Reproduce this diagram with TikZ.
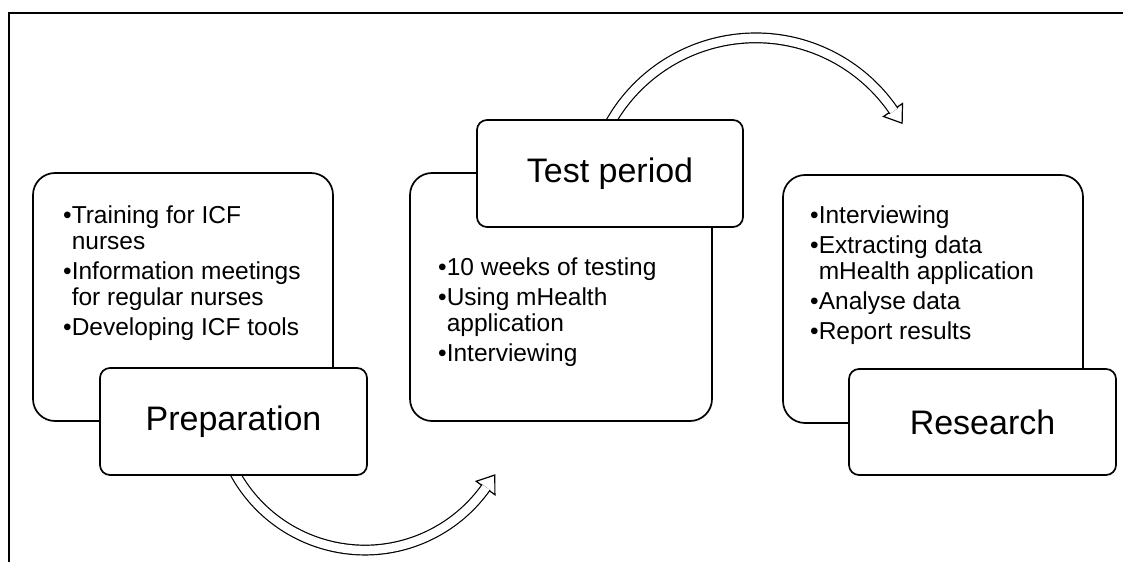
\documentclass[tikz,border=0pt]{standalone}
\usepackage{fontspec}
\setmainfont{Liberation Sans}
\usetikzlibrary{calc}
\pgfdeclarelayer{background}
\pgfsetlayers{background,main}
\begin{document}
\begin{tikzpicture}[x=1pt,y=1pt,
  bigbox/.style={draw, line width=1.7pt, rounded corners=22pt, fill=white, inner sep=0pt},
  labelbox/.style={draw, line width=1.7pt, rounded corners=10pt, fill=white, inner sep=0pt, font=\fontsize{34}{40}\selectfont},
  listtext/.style={anchor=base west, inner sep=0pt, font=\fontsize{24.5}{26}\selectfont},
  shaft/.style={draw=black, line width=1.2pt, double=white, double distance=8.5pt},
  head/.style={draw=black, fill=white, line width=1.2pt, line join=miter}]

\useasboundingbox (0,0) rectangle (1123,562);
\draw[line width=1.7pt] (9,0) -- (9,549) -- (1123,549);

% stage boxes
\node[bigbox, minimum width=300pt, minimum height=248pt] (prepbox) at (183,265) {};
\node[labelbox, minimum width=267pt, minimum height=107pt] (prep) at (233.5,140.5) {Preparation};

\node[bigbox, minimum width=302pt, minimum height=248pt] (testbox) at (561,265) {};
\node[labelbox, minimum width=266pt, minimum height=107pt] (test) at (610,388.5) {Test period};

\node[bigbox, minimum width=300pt, minimum height=248pt] (resbox) at (933,263) {};
\node[labelbox, minimum width=267pt, minimum height=106pt] (res) at (982.5,140) {Research};

% lists
\node[listtext] (preplist) at (63,338) {\begin{tabular}[t]{@{}l@{}l@{}}•&Training for ICF\\&nurses\\[4pt]•&Information meetings\\&for regular nurses\\[4pt]•&Developing ICF tools\end{tabular}};
\node[listtext] (testlist) at (438,286) {\begin{tabular}[t]{@{}l@{}l@{}}•&10 weeks of testing\\[4pt]•&Using mHealth\\&application\\[4pt]•&Interviewing\end{tabular}};
\node[listtext] (reslist) at (810,338) {\begin{tabular}[t]{@{}l@{}l@{}}•&Interviewing\\[4pt]•&Extracting data\\&mHealth application\\[4pt]•&Analyse data\\[4pt]•&Report results\end{tabular}};

% curved block arrows
\coordinate (c1) at (755.7,357.1);
\coordinate (t1) at (902.1,438.8);
\coordinate (a1) at (902.5,458.5);
\coordinate (b1) at (883.5,445.5);
\coordinate (c2) at (364.9,160.25);
\coordinate (t2) at (494.8,87);
\coordinate (a2) at (476.2,80.7);
\coordinate (b2) at (494.9,67.3);
\begin{pgfonlayer}{background}
\draw[head] (t1) -- (a1) -- (b1) -- cycle;
\draw[shaft] ($(c1)+(151:167)$) arc[start angle=151, end angle=34.2, radius=167];
\draw[head] (t2) -- (a2) -- (b2) -- cycle;
\draw[shaft] ($(c2)+(207:148.3)$) arc[start angle=207, end angle=324.8, radius=148.3];
\end{pgfonlayer}
\end{tikzpicture}
\end{document}
